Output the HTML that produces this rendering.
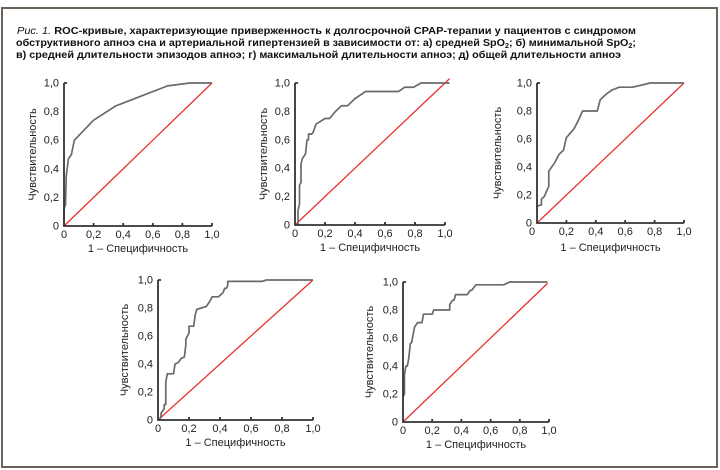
<!DOCTYPE html>
<html><head><meta charset="utf-8"><style>
html,body{margin:0;padding:0;background:#fff;}
svg{display:block;font-family:"Liberation Sans",sans-serif;}
.t{font-size:11px;fill:#222;}
.c{fill:none;stroke:#6a6a6a;stroke-width:1.7;vector-effect:non-scaling-stroke;stroke-linejoin:round;}
.r{stroke:#e8322d;stroke-width:1.3;vector-effect:non-scaling-stroke;}
.ax{fill:none;stroke:#333;stroke-width:1.8;}
</style></head><body>
<svg width="720" height="470" viewBox="0 0 720 470" xmlns="http://www.w3.org/2000/svg">
<rect x="2" y="8" width="715" height="459" fill="none" stroke="#6b6258" stroke-width="2"/>
<text x="17" y="34" font-size="10.5" fill="#111" textLength="619" lengthAdjust="spacingAndGlyphs"><tspan font-style="italic">Рис. 1.</tspan><tspan font-weight="bold"> ROC-кривые, характеризующие приверженность к долгосрочной CPAP-терапии у пациентов с синдромом</tspan></text>
<text x="16" y="46" font-size="10.5" fill="#111" font-weight="bold" textLength="620" lengthAdjust="spacingAndGlyphs">обструктивного апноэ сна и артериальной гипертензией в зависимости от: а) средней SpO<tspan font-size="7" dy="2">2</tspan><tspan dy="-2">; б) минимальной SpO</tspan><tspan font-size="7" dy="2">2</tspan><tspan dy="-2">;</tspan></text>
<text x="16" y="58" font-size="10.5" fill="#111" font-weight="bold" textLength="605" lengthAdjust="spacingAndGlyphs">в) средней длительности эпизодов апноэ; г) максимальной длительности апноэ; д) общей длительности апноэ</text>

<!-- chart 1 -->
<g transform="translate(64,226)">
<g transform="scale(148,-143)">
<line class="r" x1="0" y1="0" x2="1" y2="1"/>
<polyline class="c" points="0,0 0,0.12 0.01,0.15 0.015,0.35 0.03,0.47 0.05,0.5 0.07,0.6 0.2,0.74 0.35,0.84 0.55,0.92 0.7,0.98 0.85,1 1,1"/>
</g>
<path class="ax" d="M0,-143 V0 H148 M29.6,0 v-3 M59.2,0 v-3 M88.8,0 v-3 M118.4,0 v-3 M148,0 v-3 M0,-143 h3"/>
<g class="t" text-anchor="end"><text x="-5" y="3.5">0</text><text x="-5" y="-25.1">0,2</text><text x="-5" y="-53.7">0,4</text><text x="-5" y="-82.3">0,6</text><text x="-5" y="-110.9">0,8</text><text x="-5" y="-139.5">1,0</text></g>
<g class="t" text-anchor="middle"><text x="0" y="12">0</text><text x="29.6" y="12">0,2</text><text x="59.2" y="12">0,4</text><text x="88.8" y="12">0,6</text><text x="118.4" y="12">0,8</text><text x="148" y="12">1,0</text>
<text x="74" y="26">1 – Специфичность</text>
<text transform="translate(-28,-71.5) rotate(-90)">Чувствительность</text></g>
</g>

<!-- chart 2 -->
<g transform="translate(295,225)">
<g transform="scale(150,-142)">
<line class="r" x1="0" y1="0" x2="1.03" y2="1.03"/>
<polyline class="c" points="0.02,0 0.02,0.1 0.03,0.15 0.03,0.28 0.04,0.3 0.04,0.43 0.05,0.47 0.07,0.5 0.08,0.6 0.09,0.6 0.09,0.64 0.11,0.64 0.12,0.65 0.14,0.71 0.2,0.75 0.23,0.75 0.27,0.8 0.31,0.84 0.35,0.84 0.4,0.89 0.47,0.94 0.69,0.94 0.73,0.97 0.79,0.97 0.84,1 1.03,1"/>
</g>
<path class="ax" d="M0,-142 V0 H150 M30,0 v-3 M60,0 v-3 M90,0 v-3 M120,0 v-3 M150,0 v-3 M0,-142 h3"/>
<g class="t" text-anchor="end"><text x="-5" y="3.5">0</text><text x="-5" y="-24.9">0,2</text><text x="-5" y="-53.3">0,4</text><text x="-5" y="-81.7">0,6</text><text x="-5" y="-110.1">0,8</text><text x="-5" y="-138.5">1,0</text></g>
<g class="t" text-anchor="middle"><text x="0" y="12">0</text><text x="30" y="12">0,2</text><text x="60" y="12">0,4</text><text x="90" y="12">0,6</text><text x="120" y="12">0,8</text><text x="150" y="12">1,0</text>
<text x="75" y="26">1 – Специфичность</text>
<text transform="translate(-28,-71) rotate(-90)">Чувствительность</text></g>
</g>

<!-- chart 3 -->
<g transform="translate(537,223)">
<g transform="scale(147,-140)">
<line class="r" x1="0" y1="0" x2="1" y2="1"/>
<polyline class="c" points="0,0.12 0.03,0.13 0.03,0.17 0.05,0.19 0.07,0.24 0.08,0.26 0.08,0.37 0.12,0.43 0.15,0.49 0.18,0.52 0.2,0.61 0.25,0.67 0.28,0.73 0.31,0.8 0.41,0.8 0.43,0.88 0.47,0.92 0.51,0.95 0.56,0.97 0.65,0.97 0.77,1 1,1"/>
</g>
<path class="ax" d="M0,-140 V0 H147 M29.4,0 v-3 M58.8,0 v-3 M88.2,0 v-3 M117.6,0 v-3 M147,0 v-3 M0,-140 h3"/>
<g class="t" text-anchor="end"><text x="-5" y="3.5">0</text><text x="-5" y="-24.5">0,2</text><text x="-5" y="-52.5">0,4</text><text x="-5" y="-80.5">0,6</text><text x="-5" y="-108.5">0,8</text><text x="-5" y="-136.5">1,0</text></g>
<g class="t" text-anchor="middle"><text x="-5" y="12">0</text><text x="29.4" y="12">0,2</text><text x="58.8" y="12">0,4</text><text x="88.2" y="12">0,6</text><text x="117.6" y="12">0,8</text><text x="147" y="12">1,0</text>
<text x="73.5" y="28">1 – Специфичность</text>
<text transform="translate(-36,-70) rotate(-90)">Чувствительность</text></g>
</g>

<!-- chart 4 -->
<g transform="translate(158,420)">
<g transform="scale(155,-140)">
<line class="r" x1="0" y1="0" x2="1" y2="1"/>
<polyline class="c" points="0.01,0 0.02,0.03 0.02,0.05 0.04,0.08 0.04,0.11 0.05,0.11 0.05,0.27 0.06,0.33 0.1,0.33 0.11,0.4 0.13,0.41 0.15,0.44 0.17,0.45 0.18,0.54 0.18,0.58 0.2,0.62 0.2,0.67 0.23,0.67 0.24,0.75 0.25,0.79 0.28,0.8 0.31,0.81 0.33,0.84 0.35,0.88 0.39,0.88 0.42,0.91 0.43,0.94 0.44,0.94 0.45,0.96 0.45,0.99 0.67,0.99 0.7,1 1,1"/>
</g>
<path class="ax" d="M0,-140 V0 H155 M31,0 v-3 M62,0 v-3 M93,0 v-3 M124,0 v-3 M155,0 v-3 M0,-140 h3"/>
<g class="t" text-anchor="end"><text x="-5" y="3.5">0</text><text x="-5" y="-24.5">0,2</text><text x="-5" y="-52.5">0,4</text><text x="-5" y="-80.5">0,6</text><text x="-5" y="-108.5">0,8</text><text x="-5" y="-136.5">1,0</text></g>
<g class="t" text-anchor="middle"><text x="0" y="12">0</text><text x="31" y="12">0,2</text><text x="62" y="12">0,4</text><text x="93" y="12">0,6</text><text x="124" y="12">0,8</text><text x="155" y="12">1,0</text>
<text x="77.5" y="26">1 – Специфичность</text>
<text transform="translate(-30,-70) rotate(-90)">Чувствительность</text></g>
</g>

<!-- chart 5 -->
<g transform="translate(403,422)">
<g transform="scale(146,-140)">
<line class="r" x1="0" y1="0" x2="0.99" y2="0.99"/>
<polyline class="c" points="0,0.18 0.01,0.2 0.01,0.34 0.02,0.4 0.03,0.4 0.04,0.46 0.05,0.56 0.06,0.57 0.07,0.63 0.08,0.68 0.1,0.71 0.13,0.71 0.14,0.77 0.2,0.77 0.21,0.8 0.32,0.8 0.32,0.84 0.34,0.87 0.35,0.87 0.36,0.91 0.44,0.91 0.46,0.94 0.47,0.94 0.5,0.98 0.69,0.98 0.73,1 0.99,1"/>
</g>
<path class="ax" d="M0,-140 V0 H146 M29.2,0 v-3 M58.4,0 v-3 M87.6,0 v-3 M116.8,0 v-3 M146,0 v-3 M0,-140 h3"/>
<g class="t" text-anchor="end"><text x="-5" y="3.5">0</text><text x="-5" y="-24.5">0,2</text><text x="-5" y="-52.5">0,4</text><text x="-5" y="-80.5">0,6</text><text x="-5" y="-108.5">0,8</text><text x="-5" y="-136.5">1,0</text></g>
<g class="t" text-anchor="middle"><text x="0" y="12">0</text><text x="29.2" y="12">0,2</text><text x="58.4" y="12">0,4</text><text x="87.6" y="12">0,6</text><text x="116.8" y="12">0,8</text><text x="146" y="12">1,0</text>
<text x="73" y="26">1 – Специфичность</text>
<text transform="translate(-30,-70) rotate(-90)">Чувствительность</text></g>
</g>
</svg>
</body></html>
